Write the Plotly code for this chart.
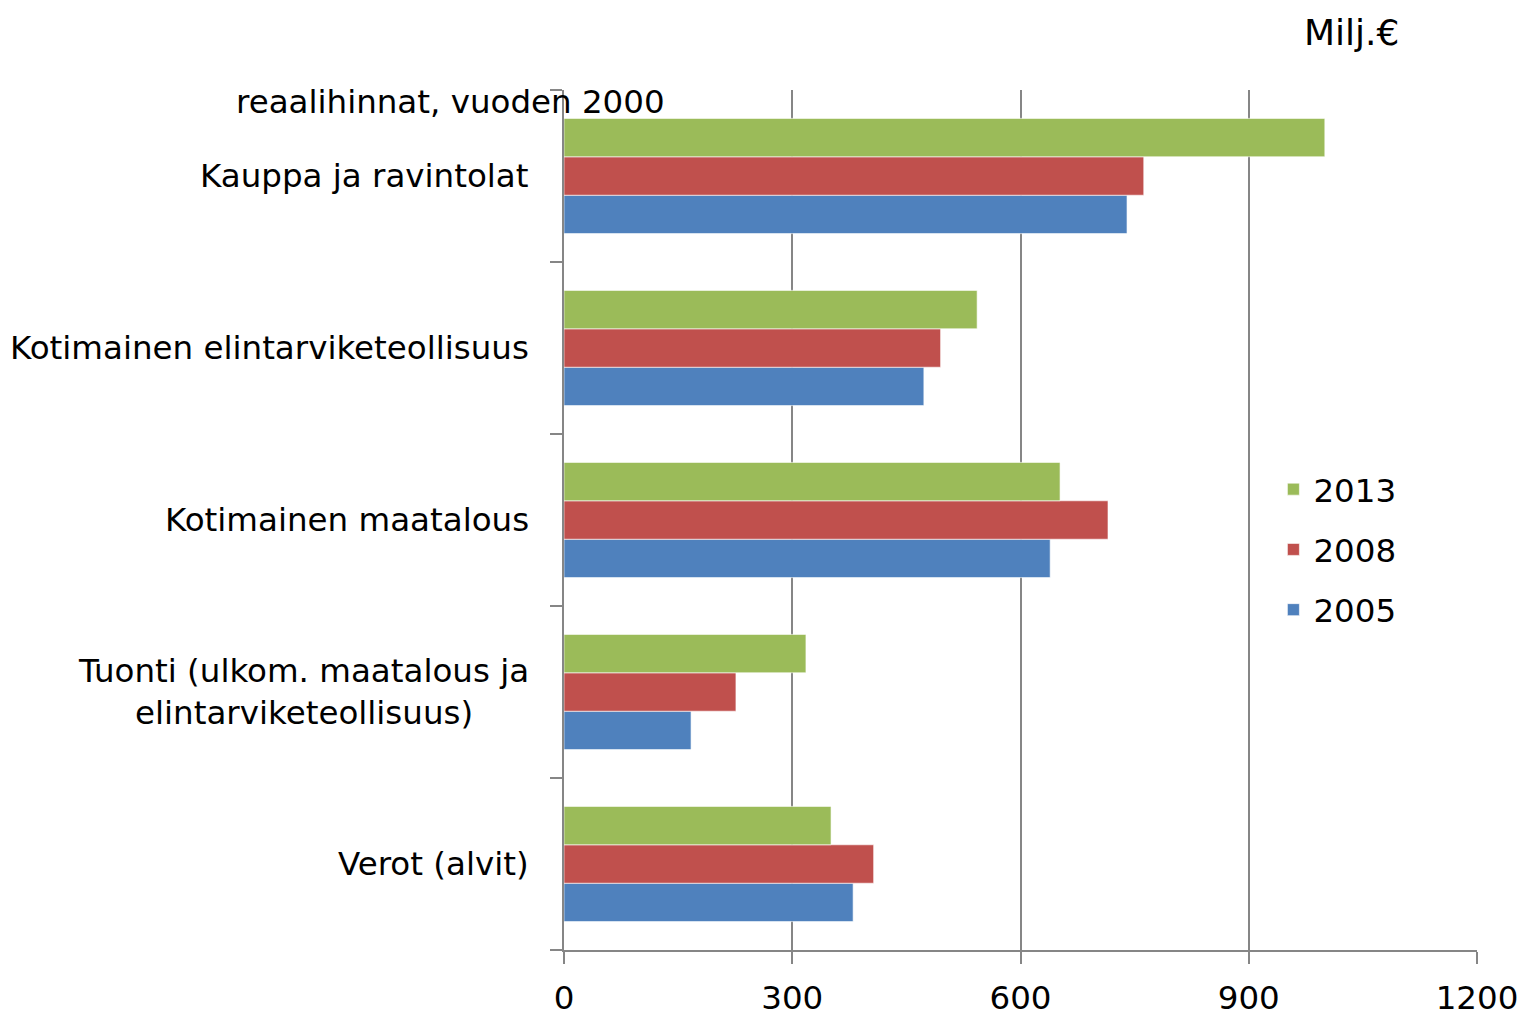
import plotly.graph_objects as go

categories = [
    "Kauppa ja ravintolat",
    "Kotimainen elintarviketeollisuus",
    "Kotimainen maatalous",
    "Tuonti (ulkom. maatalous ja<br>elintarviketeollisuus)",
    "Verot (alvit)",
]
years = ["2005", "2008", "2013"]
values_2005 = [740, 473, 639, 167, 380]
values_2008 = [762, 495, 715, 226, 407]
values_2013 = [1000, 543, 652, 318, 351]
series_values = [values_2005, values_2008, values_2013]
colors = ["#4F81BD", "#C0504D", "#9BBB59"]
legend_ranks = [3, 2, 1]
x_ticks = [0, 300, 600, 900, 1200]

FONT = "Verdana, DejaVu Sans, sans-serif"
FS = 32.5

fig = go.Figure()
for yr, vals, col, rk in zip(years, series_values, colors, legend_ranks):
    fig.add_trace(go.Bar(
        y=categories, x=vals, name=yr, orientation="h",
        marker=dict(color=col, line=dict(color="rgba(255,255,255,0.6)", width=1)),
        legendgroup=yr, legendrank=rk,
    ))

annotations = []
for c in categories:
    annotations.append(dict(
        text=c, xref="paper", x=0, xanchor="right", xshift=-33,
        yref="y", y=c, yanchor="middle", showarrow=False, align="center",
        font=dict(family=FONT, size=FS, color="black"),
    ))
annotations.append(dict(
    text="reaalihinnat, vuoden 2000", xref="paper", yref="paper",
    x=-0.1238, y=0.986, xanchor="center", yanchor="middle", showarrow=False,
    font=dict(family=FONT, size=FS, color="black"),
))
annotations.append(dict(
    text="Milj.€", xref="paper", yref="paper",
    x=0.863, y=1.067, xanchor="center", yanchor="middle", showarrow=False,
    font=dict(family=FONT, size=36, color="black"),
))

fig.update_layout(
    width=1520, height=1017,
    margin=dict(l=564, r=43, t=90, b=67, autoexpand=False),
    paper_bgcolor="white", plot_bgcolor="white",
    barmode="group", bargap=0.33, bargroupgap=0,
    font=dict(family=FONT, size=FS, color="black"),
    showlegend=True,
    legend=dict(
        x=0.777, y=0.568, xanchor="left", yanchor="top",
        traceorder="grouped", tracegroupgap=15,
        font=dict(family=FONT, size=FS, color="black"),
        bgcolor="rgba(0,0,0,0)", itemwidth=30,
    ),
    annotations=annotations,
    xaxis=dict(
        range=[0, 1200], tickvals=x_ticks, ticktext=[str(v) for v in x_ticks],
        showgrid=True, gridcolor="#868686", gridwidth=1.5,
        showline=True, linecolor="#868686", linewidth=1.5,
        ticks="outside", ticklen=12, tickcolor="#868686", tickwidth=1.5,
        ticklabelstandoff=6, zeroline=False, automargin=False,
        tickfont=dict(family=FONT, size=FS, color="black"),
    ),
    yaxis=dict(
        categoryorder="array", categoryarray=list(reversed(categories)),
        showticklabels=False, tickson="boundaries",
        ticks="outside", ticklen=12, tickcolor="#868686", tickwidth=1.5,
        showline=True, linecolor="#868686", linewidth=1.5,
        showgrid=False, zeroline=False, automargin=False,
    ),
)

fig.write_html(
    "out.html",
    config={"displayModeBar": False},
    post_script="document.body.style.margin='0';document.body.style.overflow='hidden';",
)
